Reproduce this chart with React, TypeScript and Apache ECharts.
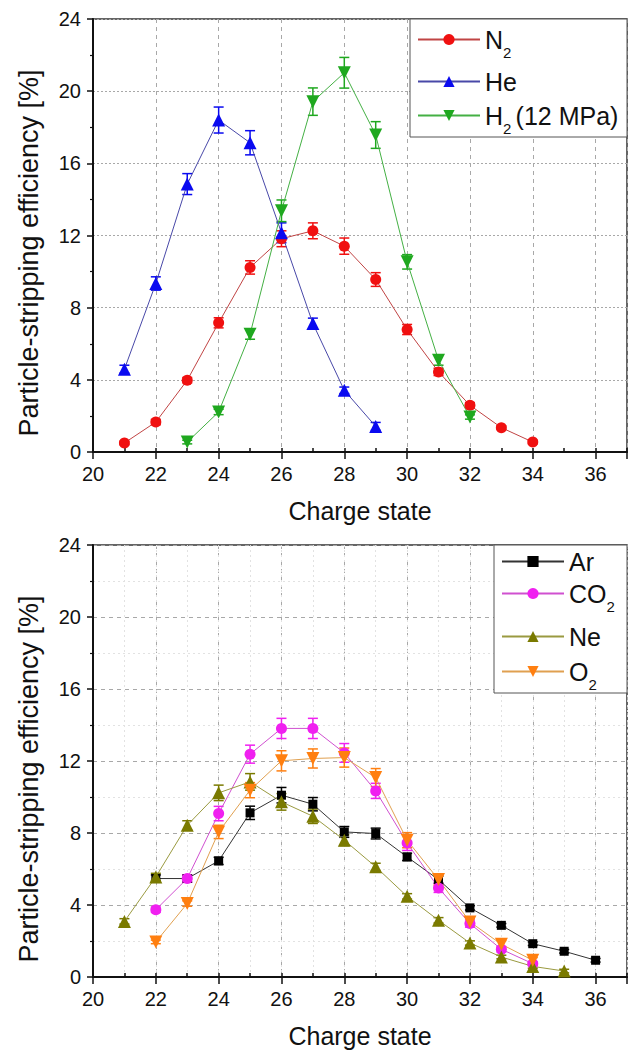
import React, { useEffect, useRef } from 'react';
import * as echarts from 'echarts';

// ---- Data ----
const xN2 = [21, 22, 23, 24, 25, 26, 27, 28, 29, 30, 31, 32, 33, 34];
const valN2 = [0.5, 1.66, 3.98, 7.16, 10.23, 11.82, 12.26, 11.41, 9.56, 6.79, 4.44, 2.59, 1.35, 0.55];
const errN2 = [0.1, 0.15, 0.15, 0.28, 0.37, 0.44, 0.44, 0.45, 0.38, 0.28, 0.2, 0.15, 0.1, 0.1];

const xHe = [21, 22, 23, 24, 25, 26, 27, 28, 29];
const valHe = [4.59, 9.34, 14.85, 18.4, 17.14, 12.15, 7.12, 3.42, 1.42];
const errHe = [0.22, 0.37, 0.58, 0.72, 0.67, 0.55, 0.3, 0.18, 0.22];

const xH2 = [23, 24, 25, 26, 27, 28, 29, 30, 31, 32];
const valH2 = [0.55, 2.22, 6.53, 13.37, 19.42, 21.02, 17.57, 10.54, 5.09, 1.94];
const errH2 = [0.1, 0.15, 0.28, 0.6, 0.76, 0.85, 0.74, 0.4, 0.28, 0.12];

const xAr = [22, 23, 24, 25, 26, 27, 28, 29, 30, 31, 32, 33, 34, 35, 36];
const valAr = [5.47, 5.47, 6.45, 9.12, 10.1, 9.6, 8.06, 7.97, 6.67, 5.41, 3.84, 2.87, 1.85, 1.43, 0.93];
const errAr = [0.2, 0.2, 0.2, 0.37, 0.43, 0.37, 0.3, 0.3, 0.2, 0.2, 0.12, 0.1, 0.1, 0.1, 0.1];

const xCO2 = [22, 23, 24, 25, 26, 27, 28, 29, 30, 31, 32, 33, 34];
const valCO2 = [3.74, 5.47, 9.08, 12.38, 13.81, 13.81, 12.45, 10.34, 7.45, 4.95, 2.97, 1.54, 0.74];
const errCO2 = [0.15, 0.2, 0.4, 0.5, 0.56, 0.56, 0.52, 0.42, 0.42, 0.25, 0.2, 0.15, 0.1];

const xNe = [21, 22, 23, 24, 25, 26, 27, 28, 29, 30, 31, 32, 33, 34, 35];
const valNe = [3.09, 5.56, 8.43, 10.23, 10.84, 9.73, 8.93, 7.6, 6.12, 4.48, 3.15, 1.89, 1.11, 0.59, 0.33];
const errNe = [0.15, 0.2, 0.25, 0.43, 0.46, 0.46, 0.4, 0.3, 0.2, 0.15, 0.15, 0.12, 0.1, 0.1, 0.1];

const xO2 = [22, 23, 24, 25, 26, 27, 28, 29, 30, 31, 32, 33, 34];
const valO2 = [1.95, 4.08, 8.06, 10.38, 12.01, 12.14, 12.19, 11.08, 7.6, 5.41, 3.06, 1.82, 0.93];
const errO2 = [0.1, 0.15, 0.37, 0.42, 0.56, 0.53, 0.53, 0.5, 0.42, 0.3, 0.2, 0.2, 0.15];

const xMin = 20;
const xMax = 37;
const yMin = 0;
const yMax = 24;

const FONT = "'Liberation Sans', Arial, Helvetica, sans-serif";

type SeriesSpec = {
  name: string;
  xs: number[];
  ys: number[];
  errs: number[];
  grid: number;
  symbol: string;
  rotate: number;
  size: number;
  marker: string;
  line: string;
};

const specs: SeriesSpec[] = [
  { name: 'N2', xs: xN2, ys: valN2, errs: errN2, grid: 0, symbol: 'circle', rotate: 0, size: 11, marker: '#f01010', line: '#c04444' },
  { name: 'He', xs: xHe, ys: valHe, errs: errHe, grid: 0, symbol: 'triangle', rotate: 0, size: 13, marker: '#0a0af0', line: '#4848a8' },
  { name: 'H2 (12 MPa)', xs: xH2, ys: valH2, errs: errH2, grid: 0, symbol: 'triangle', rotate: 180, size: 13, marker: '#1fa81f', line: '#44b044' },
  { name: 'Ar', xs: xAr, ys: valAr, errs: errAr, grid: 1, symbol: 'rect', rotate: 0, size: 9, marker: '#000000', line: '#333333' },
  { name: 'CO2', xs: xCO2, ys: valCO2, errs: errCO2, grid: 1, symbol: 'circle', rotate: 0, size: 11, marker: '#f020f0', line: '#d050d0' },
  { name: 'Ne', xs: xNe, ys: valNe, errs: errNe, grid: 1, symbol: 'triangle', rotate: 0, size: 13, marker: '#7a7a00', line: '#9a9a40' },
  { name: 'O2', xs: xO2, ys: valO2, errs: errO2, grid: 1, symbol: 'triangle', rotate: 180, size: 13, marker: '#ff7f10', line: '#e0a050' },
];

const legendLabels: Record<string, string> = {
  N2: '{n|N}{s|2}',
  He: '{n|He}',
  'H2 (12 MPa)': '{n|H}{s|2 }{n|(12 MPa)}',
  Ar: '{n|Ar}',
  CO2: '{n|CO}{s|2}',
  Ne: '{n|Ne}',
  O2: '{n|O}{s|2}',
};

const legendPos: Record<string, [number, number]> = {
  N2: [417, 27],
  He: [417, 69],
  'H2 (12 MPa)': [417, 103],
  Ar: [501, 549],
  CO2: [501, 581],
  Ne: [501, 624],
  O2: [501, 659],
};

function buildOption() {
  const grids = [
    { left: 93, right: 3, top: 19, height: 433 },
    { left: 93, right: 3, top: 545, height: 432 },
  ].map((g) => ({ ...g, show: true, borderColor: '#333', borderWidth: 1.5, backgroundColor: 'transparent' }));

  const xAxes: any[] = [];
  [0, 1].forEach((gi) => {
    xAxes.push({
      type: 'value',
      gridIndex: gi,
      min: xMin,
      max: xMax,
      interval: 2,
      name: 'Charge state',
      nameLocation: 'middle',
      nameGap: 46,
      nameTextStyle: { fontSize: 25, fontFamily: FONT, color: '#111' },
      axisLine: { show: true, onZero: false, lineStyle: { color: '#111', width: 2 } },
      axisTick: { show: true, inside: false, length: 7, lineStyle: { color: '#111', width: 1.5 } },
      axisLabel: {
        fontSize: 20,
        fontFamily: FONT,
        color: '#111',
        margin: 12,
        formatter: (v: number) => (v === xMax ? '' : String(v)),
      },
      splitLine: { show: true, lineStyle: { color: '#a8a8a8', type: [4, 4], width: 1 } },
    });
    xAxes.push({
      type: 'value',
      gridIndex: gi,
      min: xMin,
      max: xMax,
      interval: 1,
      axisLine: { show: false },
      axisTick: { show: true, inside: false, length: 4, lineStyle: { color: '#111', width: 1.5 } },
      axisLabel: { show: false },
      splitLine: gi === 1
        ? { show: true, lineStyle: { color: '#e2e2e2', type: [2, 3], width: 1 } }
        : { show: false },
    });
  });

  const yAxes = [0, 1].map((gi) => ({
    type: 'value',
    gridIndex: gi,
    min: yMin,
    max: yMax,
    interval: 4,
    axisLine: { show: true, onZero: false, lineStyle: { color: '#111', width: 2 } },
    axisTick: { show: true, inside: false, length: 6, lineStyle: { color: '#111', width: 1.5 } },
    minorTick: { show: true, splitNumber: 2, length: 3, lineStyle: { color: '#111', width: 1.2 } },
    axisLabel: { fontSize: 20, fontFamily: FONT, color: '#111', margin: 12 },
    splitLine: {
      show: true,
      lineStyle: gi === 0
        ? { color: '#a8a8a8', type: [2, 2], width: 1 }
        : { color: '#a8a8a8', type: [4, 4], width: 1 },
    },
    minorSplitLine: gi === 1
      ? { show: true, lineStyle: { color: '#e2e2e2', type: [2, 3], width: 1 } }
      : { show: false },
  }));

  const series: any[] = [];
  specs.forEach((s) => {
    const xi = s.grid * 2;
    series.push({
      name: s.name + ' error',
      type: 'custom',
      xAxisIndex: xi,
      yAxisIndex: s.grid,
      z: 3,
      encode: { x: 0, y: [1, 2] },
      data: s.xs.map((x, i) => [x, s.ys[i] - s.errs[i], s.ys[i] + s.errs[i]]),
      renderItem: (params: any, api: any) => {
        const x = api.value(0);
        const lo = api.coord([x, api.value(1)]);
        const hi = api.coord([x, api.value(2)]);
        const w = 5;
        const st = { stroke: s.marker, lineWidth: 1.5 };
        return {
          type: 'group',
          children: [
            { type: 'line', shape: { x1: lo[0], y1: lo[1], x2: hi[0], y2: hi[1] }, style: st },
            { type: 'line', shape: { x1: lo[0] - w, y1: lo[1], x2: lo[0] + w, y2: lo[1] }, style: st },
            { type: 'line', shape: { x1: hi[0] - w, y1: hi[1], x2: hi[0] + w, y2: hi[1] }, style: st },
          ],
        };
      },
    });
    series.push({
      name: s.name,
      type: 'line',
      xAxisIndex: xi,
      yAxisIndex: s.grid,
      z: 4,
      data: s.xs.map((x, i) => [x, s.ys[i]]),
      symbol: s.symbol,
      symbolSize: s.size,
      symbolRotate: s.rotate,
      showSymbol: true,
      lineStyle: { color: s.line, width: 1 },
      itemStyle: { color: s.marker, borderWidth: 0 },
      emphasis: { disabled: true },
    });
  });

  const rich = {
    n: { fontSize: 25, fontFamily: FONT, color: '#111', lineHeight: 40 },
    s: { fontSize: 15, fontFamily: FONT, color: '#111', lineHeight: 15, verticalAlign: 'bottom' },
  };

  const legends = specs.map((s) => ({
    data: [s.name],
    left: legendPos[s.name][0],
    top: legendPos[s.name][1],
    orient: 'vertical',
    padding: 0,
    itemWidth: 62,
    itemHeight: 14,
    selectedMode: false,
    z: 6,
    formatter: (name: string) => legendLabels[name],
    textStyle: { fontSize: 25, fontFamily: FONT, color: '#111', rich },
  }));

  const graphic = [
    {
      type: 'rect',
      z: 5,
      shape: { x: 410, y: 19, width: 217, height: 118 },
      style: { fill: '#ffffff', stroke: '#555', lineWidth: 1 },
    },
    {
      type: 'rect',
      z: 5,
      shape: { x: 494, y: 545, width: 133, height: 148 },
      style: { fill: '#ffffff', stroke: '#555', lineWidth: 1 },
    },
    {
      type: 'text',
      x: 29,
      y: 253,
      rotation: Math.PI / 2,
      style: {
        text: 'Particle-stripping efficiency [%]',
        fontSize: 27,
        fontFamily: FONT,
        fill: '#111',
        align: 'center',
        verticalAlign: 'middle',
      },
    },
    {
      type: 'text',
      x: 29,
      y: 779,
      rotation: Math.PI / 2,
      style: {
        text: 'Particle-stripping efficiency [%]',
        fontSize: 27,
        fontFamily: FONT,
        fill: '#111',
        align: 'center',
        verticalAlign: 'middle',
      },
    },
  ];

  return {
    animation: false,
    backgroundColor: '#ffffff',
    textStyle: { fontFamily: FONT },
    grid: grids,
    xAxis: xAxes,
    yAxis: yAxes,
    legend: legends,
    graphic,
    series,
  };
}

export default function App() {
  const ref = useRef<HTMLDivElement>(null);
  useEffect(() => {
    document.body.style.margin = '0';
    if (!ref.current) return;
    const chart = echarts.init(ref.current, undefined, { renderer: 'svg' });
    chart.setOption(buildOption() as any);
    return () => {
      chart.dispose();
    };
  }, []);
  return <div ref={ref} style={{ width: 630, height: 1054 }} />;
}
